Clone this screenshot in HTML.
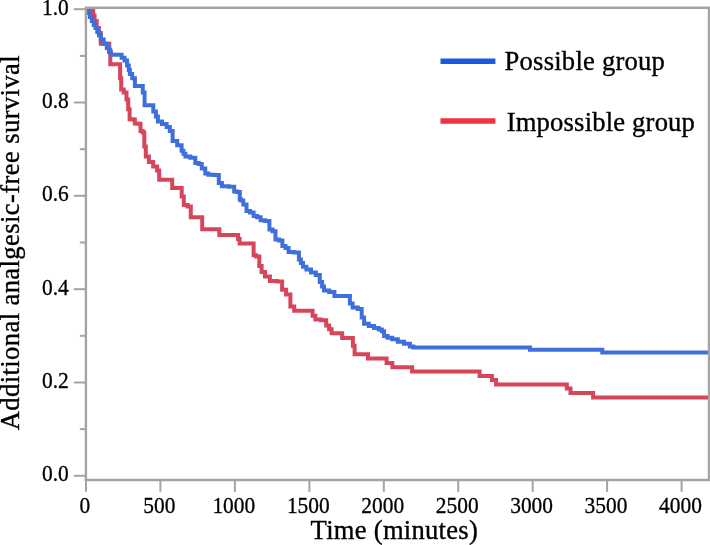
<!DOCTYPE html>
<html><head><meta charset="utf-8"><title>Additional analgesic-free survival</title>
<style>
html,body{margin:0;padding:0;background:#fff;}
body{width:710px;height:545px;overflow:hidden;}
svg{display:block;will-change:transform;opacity:0.999;}
text{font-family:"Liberation Serif",serif;fill:#000;}
.tk{font-size:22.3px;stroke:#000;stroke-width:0.3px;}
.lb{font-size:26.6px;stroke:#000;stroke-width:0.35px;}
</style></head>
<body>
<svg width="710" height="545" viewBox="0 0 710 545">
<rect width="710" height="545" fill="#fff"/>
<path d="M73.8 475.8H86" stroke="#a3a3a3" stroke-width="2"/>
<path d="M79.8 429.1H86" stroke="#a3a3a3" stroke-width="2"/>
<path d="M73.8 382.5H86" stroke="#a3a3a3" stroke-width="2"/>
<path d="M79.8 335.8H86" stroke="#a3a3a3" stroke-width="2"/>
<path d="M73.8 289.2H86" stroke="#a3a3a3" stroke-width="2"/>
<path d="M79.8 242.5H86" stroke="#a3a3a3" stroke-width="2"/>
<path d="M73.8 195.8H86" stroke="#a3a3a3" stroke-width="2"/>
<path d="M79.8 149.2H86" stroke="#a3a3a3" stroke-width="2"/>
<path d="M73.8 102.5H86" stroke="#a3a3a3" stroke-width="2"/>
<path d="M79.8 55.9H86" stroke="#a3a3a3" stroke-width="2"/>
<path d="M73.8 9.2H86" stroke="#a3a3a3" stroke-width="2"/>
<path d="M86.0 480V491.8" stroke="#a3a3a3" stroke-width="2"/>
<path d="M160.4 480V491.8" stroke="#a3a3a3" stroke-width="2"/>
<path d="M234.9 480V491.8" stroke="#a3a3a3" stroke-width="2"/>
<path d="M309.4 480V491.8" stroke="#a3a3a3" stroke-width="2"/>
<path d="M383.8 480V491.8" stroke="#a3a3a3" stroke-width="2"/>
<path d="M458.2 480V491.8" stroke="#a3a3a3" stroke-width="2"/>
<path d="M532.7 480V491.8" stroke="#a3a3a3" stroke-width="2"/>
<path d="M607.1 480V491.8" stroke="#a3a3a3" stroke-width="2"/>
<path d="M681.6 480V491.8" stroke="#a3a3a3" stroke-width="2"/>
<path d="M86.0 9.2L93.2 9.2L93.2 15.4H94.5V21.0H95.7H96.7V28.0H97.7H98.9V33.0H100.1H100.8V43.7H101.4L109.3 43.7H109.3V50.0H109.4H110.3V64.2H111.2L119.7 64.2H120.1V78.2H120.5H121.2V89.5H121.9H123.7V92.4H125.4H126.5V99.4H127.5H128.2V109.3H129.0H129.6V119.2H130.2H132.3V119.5H134.4H134.8V123.6H135.2H137.4V123.8H139.7H140.5V131.1H141.3H142.7V132.5H144.0H144.3V146.6H144.7H145.8V156.5H146.8H148.9V162.1H151.1H153.2V166.4H155.3H157.1V170.6H158.8H159.2V179.7H159.6L171.8 179.7H172.2V188.1H172.5L181.0 188.1H181.7V196.6H182.4H183.8V205.1H185.2H187.6V206.5H190.1H190.8V217.2H191.6L201.8 217.2H202.2V229.3H202.5L219.0 229.3H219.3V235.0H219.7L237.5 235.0H238.1V239.1H238.6H239.6V243.6H240.7L253.0 243.6H253.6V255.2H254.1H256.1V256.6H258.2H259.3V266.0H260.4H261.6V272.0H262.8H265.0V276.6H267.2H269.9V281.0H272.6H276.8V281.6H281.0H282.1V289.7H283.2H286.1V294.6H289.0H290.4V306.6H291.8H294.2V310.8H296.7L311.6 310.8H312.6V315.8H313.7H315.4V319.4H317.2H321.1V320.2H325.0H326.2V325.5H327.5H329.1V329.2H330.6H331.6V333.2H332.5L341.6 333.2H342.2V338.0H342.8L351.8 338.0H352.9V345.7H353.9H354.6V354.2H355.3L367.3 354.2H368.0V358.5H368.7L386.0 358.5H386.6V363.1H387.1L392.0 363.1H392.4V367.3H392.7L411.8 367.3H412.1V371.6H412.5L479.5 371.6H479.6V375.9H479.8L491.9 375.9L491.9 380.1L496.1 380.1L496.1 384.4L566.8 384.4L566.8 388.6L570.5 388.6L570.5 392.9L593.1 392.9L593.1 397.4L708.0 397.4" fill="none" stroke="#d6455a" stroke-width="4" stroke-linejoin="miter"/>
<path d="M86.0 9.2L88.8 9.2L88.8 13.0H89.8V17.0H90.8H91.8V21.0H92.8H93.7V25.0H94.5H95.5V28.0H96.5H97.3V32.0H98.2H99.0V35.3H99.7H100.8V39.5H102.0H103.7V43.8H105.4H106.8V48.0H108.2H109.1V52.0H110.0H110.9V54.7H111.8L120.2 54.7H121.6V57.8H123.0H124.5V60.6H126.1H127.1V65.5H128.2H128.8V70.0H129.5H129.9V74.0H130.4H132.2V78.2H133.9H134.9V86.0H135.8L141.8 86.0H142.8V92.4H143.8H144.6V105.3H145.4L151.8 105.3H153.3V111.5H154.8H155.9V116.4H157.0H157.9V121.5H158.8H162.0V124.0H165.2H166.6V127.0H168.0H169.8V131.1H171.6H172.6V141.0H173.7H177.2V145.2H180.7H181.6V150.7H182.4H183.4V153.7H184.3H185.4V156.4H186.6H190.3V157.8H194.0H195.3V163.0H196.7H198.7V164.1H200.7H201.8V168.5H203.0H205.3V173.4H207.6H208.4V174.8H209.2H213.4V175.1H217.7H218.8V183.0H219.8H221.9V186.2H224.0H228.8V186.8H233.5H234.2V191.5H234.9H237.1V192.1H239.2H239.8V199.5H240.5H241.1V200.4H241.6H243.3V204.6H245.1H246.5V211.0H247.9H250.0V212.4H252.1H253.6V215.9H255.0H257.1V217.3H259.2H260.6V220.3H262.0H265.1V221.0H268.3H269.4V229.5H270.4H272.5V231.3H274.6H275.5V239.5H276.4H279.0V240.5H281.7H282.4V246.0H283.1H285.5V248.1H287.9H288.6V252.0H289.3H293.6V252.4H297.8H298.9V259.4H299.9H300.9V263.0H302.0H303.0V266.8H304.0H306.4V269.6H308.9H311.0V272.4H313.1H315.8V274.9H318.4H319.8V282.0H321.2H322.1V286.4H323.0H324.0V290.4H325.0H329.2V291.9H333.4H334.4V296.1H335.5L349.0 296.1H349.9V303.6H350.7H352.6V307.4H354.6H357.8V309.0H361.0H361.7V317.5H362.4H364.1V323.8H365.9H368.8V326.0H371.6H374.1V328.1H376.5H378.8V329.5H381.0H381.9V331.3H382.8H384.1V336.0H385.3H387.6V337.7H389.9H392.2V339.3H394.5H397.8V341.7H401.0H404.0V343.8H407.0H409.9V346.5H412.8H413.4V347.4H414.0L530.0 347.4L530.0 349.8L602.3 349.8L602.3 352.6L708.0 352.6" fill="none" stroke="#3f6fdc" stroke-width="4" stroke-linejoin="miter"/>
<path d="M85.9 481V7.7H709V481" fill="none" stroke="#a3a3a3" stroke-width="2.4"/>
<path d="M84.7 480H710" fill="none" stroke="#a3a3a3" stroke-width="2.5"/>
<path d="M440.5 61.2H495.4" stroke="#185bdc" stroke-width="5.5"/>
<path d="M440.5 121H495.4" stroke="#ee3345" stroke-width="5.5"/>
<text x="42.0" y="481.3" textLength="26.8" lengthAdjust="spacingAndGlyphs" class="tk">0.0</text>
<text x="42.0" y="388.0" textLength="26.8" lengthAdjust="spacingAndGlyphs" class="tk">0.2</text>
<text x="42.0" y="294.7" textLength="26.8" lengthAdjust="spacingAndGlyphs" class="tk">0.4</text>
<text x="42.0" y="201.3" textLength="26.8" lengthAdjust="spacingAndGlyphs" class="tk">0.6</text>
<text x="42.0" y="108.0" textLength="26.8" lengthAdjust="spacingAndGlyphs" class="tk">0.8</text>
<text x="42.0" y="14.7" textLength="26.8" lengthAdjust="spacingAndGlyphs" class="tk">1.0</text>
<text x="79.6" y="512.9" textLength="10.7" lengthAdjust="spacingAndGlyphs" class="tk">0</text>
<text x="143.3" y="512.9" textLength="32.1" lengthAdjust="spacingAndGlyphs" class="tk">500</text>
<text x="212.4" y="512.9" textLength="42.8" lengthAdjust="spacingAndGlyphs" class="tk">1000</text>
<text x="286.9" y="512.9" textLength="42.8" lengthAdjust="spacingAndGlyphs" class="tk">1500</text>
<text x="361.3" y="512.9" textLength="42.8" lengthAdjust="spacingAndGlyphs" class="tk">2000</text>
<text x="435.8" y="512.9" textLength="42.8" lengthAdjust="spacingAndGlyphs" class="tk">2500</text>
<text x="510.2" y="512.9" textLength="42.8" lengthAdjust="spacingAndGlyphs" class="tk">3000</text>
<text x="584.6" y="512.9" textLength="42.8" lengthAdjust="spacingAndGlyphs" class="tk">3500</text>
<text x="659.1" y="512.9" textLength="42.8" lengthAdjust="spacingAndGlyphs" class="tk">4000</text>
<text x="504.5" y="69.8" textLength="160.4" class="lb">Possible group</text>
<text x="506.7" y="130.6" textLength="188.2" class="lb">Impossible group</text>
<text x="310.6" y="539.4" textLength="167.2" class="lb">Time (minutes)</text>
<text transform="translate(18.9 430.3) rotate(-90)" textLength="375" class="lb" id="yl">Additional analgesic-free survival</text>
</svg>
</body></html>
